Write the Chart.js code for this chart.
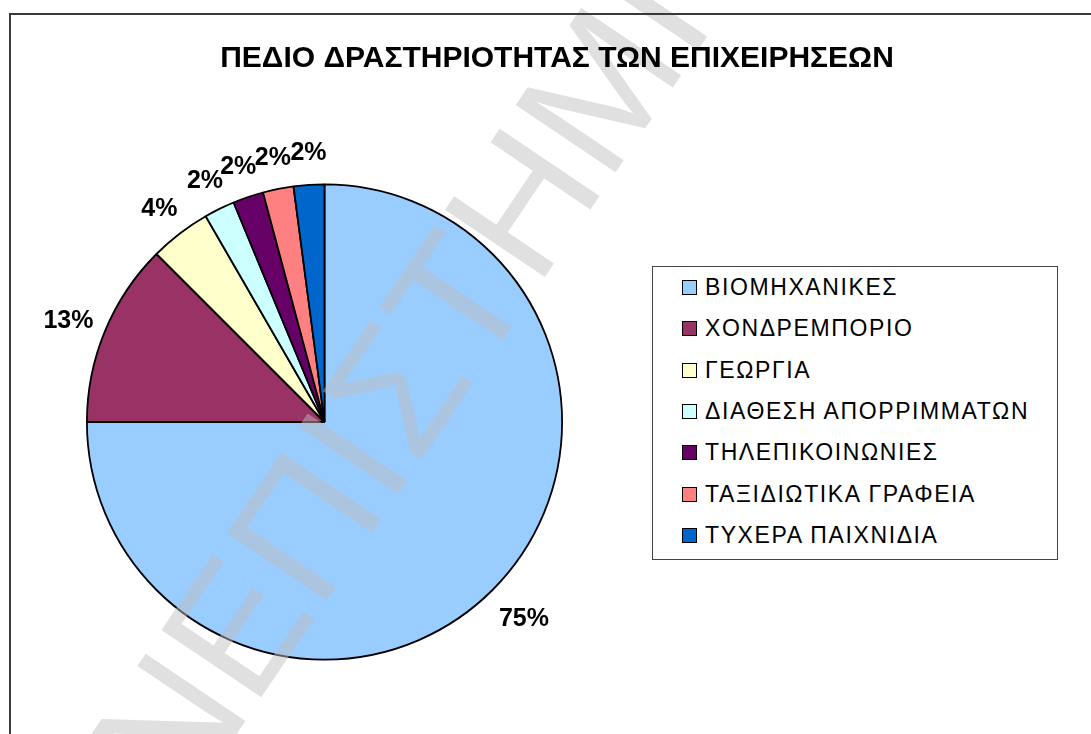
<!DOCTYPE html>
<html lang="el">
<head>
  <meta charset="UTF-8" />
  <title>Πεδίο δραστηριότητας των επιχειρήσεων</title>
  <script src="https://cdn.jsdelivr.net/npm/chart.js"></script>
  <style>
    body {
      margin: 0;
      background-color: #ffffff;
      font-family: Arial, "Liberation Sans", sans-serif;
    }
    #wrap {
      position: relative;
      width: 1091px;
      height: 734px;
      overflow: hidden;
    }
    #legenda {
      position: absolute;
      left: 652px;
      top: 266px;
      width: 404px;
      height: 292px;
      border: 1px solid #444;
      background: #fff;
    }
    .fila {
      height: 41.3px;
      display: flex;
      align-items: center;
      font-size: 23px;
      letter-spacing: 1.6px;
      color: #000;
    }
    .cuadro {
      width: 13px;
      height: 13px;
      border: 1px solid #000;
      margin-left: 29px;
      margin-right: 8px;
      flex: none;
    }
  </style>
</head>
<body>
<div id="wrap">
  <canvas id="graficoTorta"></canvas>
  <div id="legenda"></div>
</div>
<script>
  // datos del gráfico
  const categorias = [
    'ΒΙΟΜΗΧΑΝΙΚΕΣ',
    'ΧΟΝΔΡΕΜΠΟΡΙΟ',
    'ΓΕΩΡΓΙΑ',
    'ΔΙΑΘΕΣΗ ΑΠΟΡΡΙΜΜΑΤΩΝ',
    'ΤΗΛΕΠΙΚΟΙΝΩΝΙΕΣ',
    'ΤΑΞΙΔΙΩΤΙΚΑ ΓΡΑΦΕΙΑ',
    'ΤΥΧΕΡΑ ΠΑΙΧΝΙΔΙΑ'
  ];
  const empresas = [36, 6, 2, 1, 1, 1, 1];
  const colores = ['#99CCFF', '#993366', '#FFFFCC', '#CCFFFF', '#660066', '#FF8080', '#0066CC'];
  const titulo = 'ΠΕΔΙΟ ΔΡΑΣΤΗΡΙΟΤΗΤΑΣ ΤΩΝ ΕΠΙΧΕΙΡΗΣΕΩΝ';
  const marcaAgua = 'ΠΑΝΕΠΙΣΤΗΜΙΟ';

  const total = empresas.reduce((a, b) => a + b, 0);

  // leyenda en HTML
  const legenda = document.getElementById('legenda');
  categorias.forEach((c, i) => {
    const fila = document.createElement('div');
    fila.className = 'fila';
    const cuadro = document.createElement('span');
    cuadro.className = 'cuadro';
    cuadro.style.background = colores[i];
    const txt = document.createElement('span');
    txt.textContent = c;
    fila.appendChild(cuadro);
    fila.appendChild(txt);
    legenda.appendChild(fila);
  });

  // marca de agua, marco, título y porcentajes
  const extras = {
    id: 'extras',
    afterDatasetsDraw(chart) {
      const ctx = chart.ctx;
      ctx.save();
      const size = 175;
      ctx.font = size + 'px Arial, "Liberation Sans"';
      ctx.fillStyle = 'rgba(190,190,190,0.48)';
      ctx.translate(302, 525);
      ctx.rotate(-56 * Math.PI / 180);
      const pre = ctx.measureText('ΠΑΝΕ').width + ctx.measureText('Π').width / 2;
      ctx.textBaseline = 'alphabetic';
      ctx.fillText(marcaAgua, -pre, size * 0.358);
      ctx.restore();
    },
    afterDraw(chart) {
      const ctx = chart.ctx;
      ctx.save();
      // marco
      ctx.strokeStyle = '#3a3a3a';
      ctx.lineWidth = 2;
      ctx.strokeRect(10, 14, 1200, 900);
      // título
      ctx.fillStyle = '#000';
      ctx.font = 'bold 30px Arial, "Liberation Sans"';
      ctx.textAlign = 'center';
      ctx.textBaseline = 'alphabetic';
      ctx.fillText(titulo, 557, 67);
      // porcentajes fuera de la torta
      ctx.font = 'bold 25px Arial, "Liberation Sans"';
      const meta = chart.getDatasetMeta(0);
      meta.data.forEach((arc, i) => {
        const p = arc.getProps(['x', 'y', 'startAngle', 'endAngle', 'outerRadius']);
        const mid = (p.startAngle + p.endAngle) / 2;
        const dx = Math.cos(mid), dy = Math.sin(mid);
        const txt = Math.round(empresas[i] / total * 100) + '%';
        const w = ctx.measureText(txt).width;
        const h = 22;
        const d = p.outerRadius + 25;
        const cx = p.x + d * dx + dx * w / 3 + 2;
        const cy = p.y + d * dy + dy * h / 2 + 2;
        ctx.fillText(txt, cx, cy + 25 * 0.358);
      });
      ctx.restore();
    }
  };

  const ctx = document.getElementById('graficoTorta').getContext('2d');
  new Chart(ctx, {
    type: 'pie',
    data: {
      labels: categorias,
      datasets: [{
        data: empresas,
        backgroundColor: colores,
        borderColor: '#000000',
        borderWidth: 1.8
      }]
    },
    options: {
      responsive: true,
      maintainAspectRatio: false,
      animation: false,
      layout: {
        padding: { left: 86, right: 528, top: 183, bottom: 73 }
      },
      plugins: {
        legend: { display: false },
        title: { display: false },
        tooltip: { enabled: false }
      }
    },
    plugins: [extras]
  });
</script>
</body>
</html>
